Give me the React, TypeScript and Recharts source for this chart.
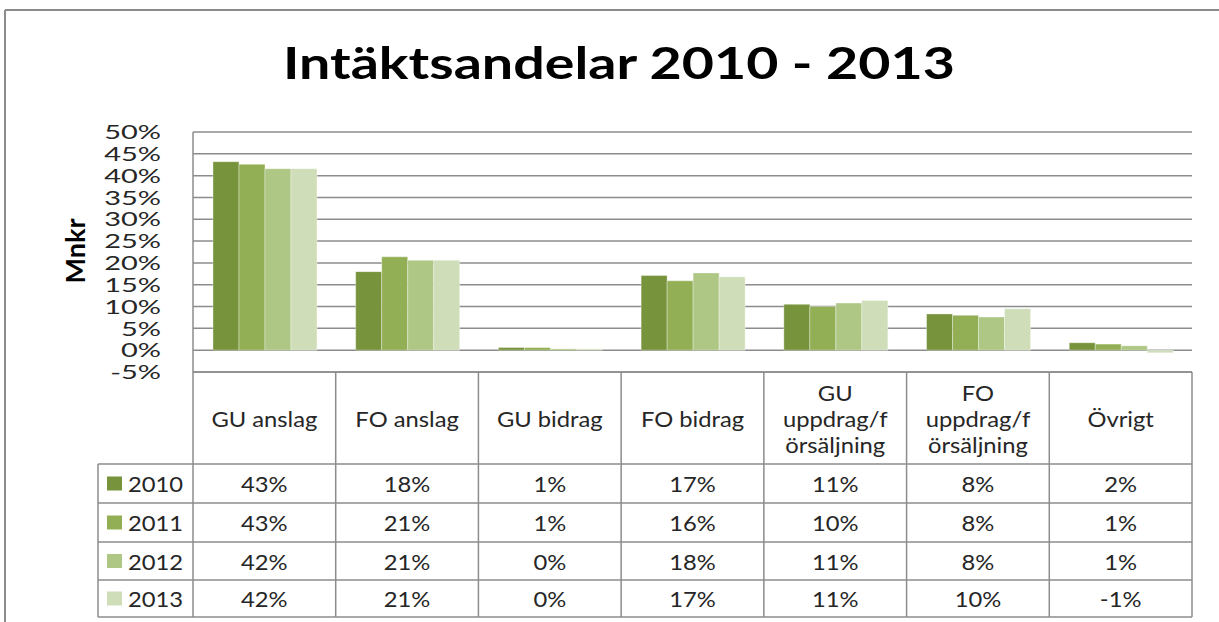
import React from "react";
import { BarChart, Bar, XAxis, YAxis, CartesianGrid } from "recharts";

// ---- data ----
const categories = [
  "GU anslag",
  "FO anslag",
  "GU bidrag",
  "FO bidrag",
  "GU uppdrag/försäljning",
  "FO uppdrag/försäljning",
  "Övrigt",
];
const categoryLines = [
  ["GU anslag"],
  ["FO anslag"],
  ["GU bidrag"],
  ["FO bidrag"],
  ["GU", "uppdrag/f", "örsäljning"],
  ["FO", "uppdrag/f", "örsäljning"],
  ["Övrigt"],
];
const years = ["2010", "2011", "2012", "2013"];
const values2010 = [43.2, 18.0, 0.6, 17.1, 10.5, 8.3, 1.7];
const values2011 = [42.6, 21.4, 0.6, 15.9, 10.0, 8.0, 1.4];
const values2012 = [41.6, 20.6, 0.3, 17.7, 10.8, 7.6, 1.0];
const values2013 = [41.6, 20.6, 0.3, 16.8, 11.4, 9.5, -0.6];
const yTicks = [-5, 0, 5, 10, 15, 20, 25, 30, 35, 40, 45, 50];
const title = "Intäktsandelar 2010 - 2013";
const yAxisTitle = "Mnkr";

const seriesValues = [values2010, values2011, values2012, values2013];
const colors = ["#77933C", "#93AF55", "#AEC784", "#CFDDB9"];

const data = categories.map((name, i) => {
  const row: Record<string, any> = { name, idx: i };
  years.forEach((y, s) => {
    row["y" + y] = seriesValues[s][i];
  });
  return row;
});

// ---- layout (style only) ----
const W = 1219;
const H = 622;
const PLOT_LEFT = 193;
const PLOT_RIGHT = 1192;
const PLOT_TOP = 132;
const PLOT_BOTTOM = 372;
const COL_W = (PLOT_RIGHT - PLOT_LEFT) / categories.length;
const HEADER_H = 92;
const ROW_H = [39, 39, 38, 37];
const LEGEND_LEFT = 98;
const FONT = "Lato, 'Open Sans', sans-serif";
const GRID = "#8c8c8c";
const TEXT = "#262626";
const TABLE_SCALE = 1.08;

const fmt = (v: number) => `${Math.round(v)}%`;

const STxt = ({
  x,
  y,
  children,
  anchor = "middle",
  scale = TABLE_SCALE,
  size = 22,
}: any) => (
  <g transform={`translate(${x},${y}) scale(${scale},1)`}>
    <text
      x={0}
      y={0}
      textAnchor={anchor}
      dominantBaseline="central"
      fontFamily={FONT}
      fontSize={size}
      fill={TEXT}
    >
      {children}
    </text>
  </g>
);

const YTick = (props: any) => {
  const { x, y, payload } = props;
  return (
    <g transform={`translate(${x},${y}) scale(1.45,1)`}>
      <text
        x={0}
        y={0}
        textAnchor="end"
        dy="0.36em"
        fontFamily={FONT}
        fontSize={20}
        fill={TEXT}
      >
        {`${payload.value}%`}
      </text>
    </g>
  );
};

const XTick = (props: any) => {
  const { x, y, payload } = props;
  const i = categories.indexOf(payload.value);
  const top = y;
  const left = x - COL_W / 2;
  const right = x + COL_W / 2;
  const rowTops: number[] = [];
  let acc = top + HEADER_H;
  ROW_H.forEach((h) => {
    rowTops.push(acc);
    acc += h;
  });
  const bottom = acc;
  const lines = categoryLines[i];
  const headerMid = top + HEADER_H / 2;
  const lineGap = 26;
  const els: React.ReactNode[] = [];
  els.push(
    <line key="r" x1={right} y1={top} x2={right} y2={bottom} stroke={GRID} strokeWidth={1.5} />
  );
  if (i === 0) {
    els.push(
      <line key="l" x1={left} y1={top} x2={left} y2={bottom} stroke={GRID} strokeWidth={1.5} />
    );
    els.push(
      <line key="ll" x1={LEGEND_LEFT} y1={top + HEADER_H} x2={LEGEND_LEFT} y2={bottom} stroke={GRID} strokeWidth={1.5} />
    );
    [...rowTops, bottom].forEach((yy, k) =>
      els.push(
        <line key={"lh" + k} x1={LEGEND_LEFT} y1={yy} x2={left} y2={yy} stroke={GRID} strokeWidth={1.5} />
      )
    );
    years.forEach((yr, s) => {
      const cy = rowTops[s] + ROW_H[s] / 2;
      els.push(
        <rect key={"sq" + s} x={LEGEND_LEFT + 9} y={cy - 7} width={15} height={14} fill={colors[s]} />
      );
      els.push(
        <STxt key={"yt" + s} x={LEGEND_LEFT + 30} y={cy} anchor="start">
          {yr}
        </STxt>
      );
    });
  }
  [top, ...rowTops, bottom].forEach((yy, k) =>
    els.push(
      <line key={"h" + k} x1={left} y1={yy} x2={right} y2={yy} stroke={GRID} strokeWidth={1.5} />
    )
  );
  lines.forEach((ln, k) => {
    const cy = headerMid + (k - (lines.length - 1) / 2) * lineGap;
    els.push(
      <STxt key={"hd" + k} x={x} y={cy}>
        {ln}
      </STxt>
    );
  });
  years.forEach((yr, s) => {
    const cy = rowTops[s] + ROW_H[s] / 2;
    els.push(
      <STxt key={"v" + s} x={x} y={cy}>
        {fmt(seriesValues[s][i])}
      </STxt>
    );
  });
  return <g>{els}</g>;
};

export default function App() {
  return (
    <div
      style={{
        position: "absolute",
        left: 0,
        top: 0,
        width: W,
        height: H,
        background: "#fff",
        overflow: "hidden",
      }}
    >
      <BarChart
        width={W}
        height={H}
        data={data}
        margin={{ top: PLOT_TOP, right: W - PLOT_RIGHT, bottom: 0, left: 0 }}
        barCategoryGap="14%"
        barGap={0}
      >
        <CartesianGrid vertical={false} stroke={GRID} strokeWidth={1.5} />
        <XAxis
          dataKey="name"
          height={H - PLOT_BOTTOM}
          axisLine={false}
          tickLine={false}
          tickSize={0}
          tickMargin={0}
          interval={0}
          tick={<XTick />}
        />
        <YAxis
          type="number"
          domain={[-5, 50]}
          ticks={yTicks}
          width={PLOT_LEFT}
          axisLine={{ stroke: GRID, strokeWidth: 1.5 }}
          tickLine={false}
          tickSize={0}
          tickMargin={32}
          interval={0}
          tick={<YTick />}
        />
        {years.map((yr, s) => (
          <Bar
            key={yr}
            dataKey={"y" + yr}
            fill={colors[s]}
            stroke="#ffffff"
            strokeOpacity={0.35}
            strokeWidth={1}
            isAnimationActive={false}
          />
        ))}
      </BarChart>
      <svg
        width={W}
        height={H}
        style={{ position: "absolute", left: 0, top: 0, pointerEvents: "none" }}
      >
        <line x1={5} y1={10} x2={W} y2={10} stroke={GRID} strokeWidth={2} />
        <line x1={5} y1={10} x2={5} y2={H} stroke={GRID} strokeWidth={2} />
        <text
          x={619}
          y={79}
          textAnchor="middle"
          fontFamily={FONT}
          fontWeight="bold"
          fontSize={43}
          textLength={672}
          lengthAdjust="spacingAndGlyphs"
          fill="#000"
        >
          {title}
        </text>
        <text
          x={74}
          y={251}
          transform="rotate(-90 74 251)"
          textAnchor="middle"
          dominantBaseline="central"
          fontFamily={FONT}
          fontWeight="bold"
          fontSize={27}
          fill="#000"
        >
          {yAxisTitle}
        </text>
      </svg>
    </div>
  );
}
